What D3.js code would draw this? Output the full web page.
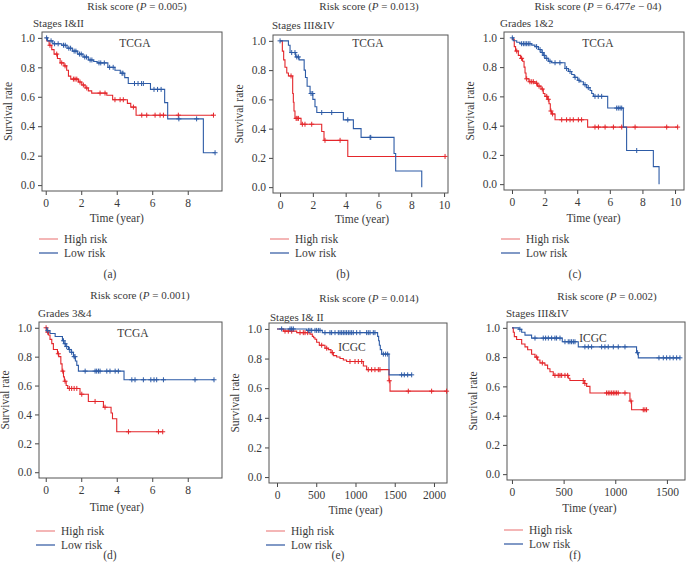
<!DOCTYPE html>
<html>
<head>
<meta charset="utf-8">
<script src="https://cdn.jsdelivr.net/npm/d3@7"></script>
<style>
  body { margin: 0; background: #fff; }
  svg { display: block; font-family: 'Liberation Serif', 'DejaVu Serif', serif; }
</style>
</head>
<body>
<svg id="chart" width="686" height="571"></svg>
<script>
// ---- data: step times (T), survival after step (S), censor times (C) ----

// (a) Stages I&II, TCGA, years
const aHighT = [0.06, 0.19, 0.34, 0.47, 0.66, 0.81, 1.03, 1.18, 1.28, 1.41, 1.84, 2.03, 2.22, 2.40, 2.59, 3.44, 3.77, 4.60, 4.79, 5.09]
const aHighS = [0.98, 0.95, 0.92, 0.89, 0.86, 0.83, 0.81, 0.78, 0.74, 0.72, 0.70, 0.68, 0.66, 0.64, 0.625, 0.61, 0.58, 0.555, 0.53, 0.475]
const aHighC = [0.24, 0.62, 0.9, 1.09, 1.56, 1.65, 1.75, 1.93, 2.12, 2.31, 3.06, 3.34, 3.9, 4.19, 4.37, 4.94, 5.41, 5.69, 6.16, 6.44, 6.63, 7.47, 9.45]
const aLowT = [0.1, 0.4, 0.9, 1.2, 1.5, 1.8, 2.1, 2.4, 2.7, 2.9, 3.5, 3.9, 4.2, 4.45, 4.65, 5.9, 6.7, 6.87, 8.88]
const aLowS = [0.98, 0.96, 0.95, 0.93, 0.91, 0.89, 0.87, 0.85, 0.84, 0.83, 0.80, 0.78, 0.76, 0.73, 0.69, 0.65, 0.56, 0.45, 0.22]
const aLowC = [0.05, 0.3, 0.5, 0.7, 1.0, 1.1, 1.3, 1.4, 1.6, 1.7, 1.9, 2.0, 2.2, 2.3, 2.5, 2.6, 3.0, 3.1, 3.3, 3.6, 3.8, 4.3, 4.35, 5.0, 5.2, 5.4, 5.5, 6.1, 6.3, 6.5, 7.5, 8.5, 9.54]

// (b) Stages III&IV, TCGA, years
const bHighT = [0.14, 0.22, 0.30, 0.41, 0.51, 0.77, 0.81, 0.85, 0.91, 1.28, 2.54, 2.68, 4.13]
const bHighS = [0.93, 0.87, 0.82, 0.78, 0.76, 0.64, 0.58, 0.52, 0.47, 0.43, 0.38, 0.32, 0.21]
const bHighC = [0.67, 0.98, 1.04, 1.12, 1.36, 1.52, 1.93, 2.74, 3.66, 10.06]
const bLowT = [0.51, 0.61, 0.95, 1.16, 1.47, 1.55, 1.65, 1.83, 2.0, 2.13, 2.24, 3.86, 4.47, 4.94, 6.95, 7.05, 8.64]
const bLowS = [0.97, 0.92, 0.89, 0.87, 0.80, 0.75, 0.69, 0.64, 0.60, 0.55, 0.51, 0.46, 0.40, 0.34, 0.23, 0.11, 0.0]
const bLowC = [0, 0.71, 0.91, 1.02, 1.12, 1.89, 1.99, 2.54, 3.15, 4.13, 5.49, 5.53]

// (c) Grades 1&2, TCGA, years
const cHighT = [0.02, 0.14, 0.22, 0.39, 0.53, 0.65, 0.74, 0.80, 0.86, 1.04, 1.41, 1.57, 1.78, 1.92, 2.02, 2.17, 2.27, 2.35, 2.43, 2.64, 4.64]
const cHighS = [0.99, 0.94, 0.91, 0.88, 0.86, 0.84, 0.80, 0.76, 0.72, 0.70, 0.69, 0.67, 0.65, 0.62, 0.60, 0.58, 0.55, 0.50, 0.48, 0.44, 0.39]
const cHighC = [0.29, 0.59, 0.9, 1.1, 1.21, 1.31, 1.51, 1.66, 1.86, 2.13, 2.23, 2.39, 2.49, 3.05, 3.35, 3.56, 3.76, 4.07, 4.27, 5.09, 5.3, 5.71, 6.22, 6.73, 7.55, 9.49, 10.16]
const cLowT = [0.08, 0.29, 0.49, 1.21, 1.41, 1.62, 1.78, 1.92, 2.02, 2.23, 2.43, 3.25, 3.46, 3.66, 3.82, 4.03, 4.17, 4.38, 4.58, 4.79, 4.89, 4.99, 5.87, 6.83, 7.03, 8.67, 9.02]
const cLowS = [0.98, 0.97, 0.96, 0.95, 0.94, 0.92, 0.90, 0.88, 0.86, 0.84, 0.83, 0.79, 0.77, 0.75, 0.73, 0.71, 0.70, 0.68, 0.66, 0.64, 0.62, 0.60, 0.52, 0.39, 0.23, 0.12, 0.0]
const cLowC = [0.02, 0.59, 0.7, 0.8, 0.9, 1.0, 1.1, 1.51, 1.72, 1.86, 1.98, 2.13, 2.33, 2.64, 2.94, 3.35, 3.56, 3.87, 4.11, 4.48, 4.68, 5.09, 5.29, 5.5, 6.42, 6.52, 6.63, 6.73, 7.65]

// (d) Grades 3&4, TCGA, years
const dHighT = [0.06, 0.15, 0.24, 0.34, 0.43, 0.66, 0.73, 0.85, 0.92, 1.0, 1.05, 1.15, 1.24, 1.93, 2.40, 3.25, 3.68, 3.76, 4.0]
const dHighS = [0.97, 0.95, 0.92, 0.89, 0.85, 0.82, 0.80, 0.75, 0.70, 0.66, 0.63, 0.60, 0.58, 0.54, 0.49, 0.45, 0.41, 0.37, 0.28]
const dHighC = [0.02, 0.11, 0.71, 0.96, 1.09, 1.33, 1.46, 1.6, 1.75, 2.03, 2.78, 3.34, 4.66, 6.35, 6.59]
const dLowT = [0.06, 0.24, 0.53, 0.94, 1.03, 1.13, 1.28, 1.43, 1.56, 1.67, 1.75, 1.84, 4.41]
const dLowS = [0.98, 0.96, 0.94, 0.91, 0.89, 0.87, 0.85, 0.83, 0.80, 0.77, 0.74, 0.70, 0.64]
const dLowC = [0.11, 1.0, 1.09, 1.18, 1.33, 1.46, 1.6, 1.65, 2.22, 2.78, 2.87, 2.97, 3.06, 3.44, 3.62, 3.91, 4.09, 4.85, 5.03, 5.5, 5.92, 6.1, 6.25, 6.63, 8.41, 9.48]

// (e) Stages I& II, ICGC, days
const eHighT = [81, 251, 420, 450, 467, 484, 505, 539, 611, 654, 688, 718, 760, 803, 845, 887, 1100, 1142, 1427, 1440]
const eHighS = [0.985, 0.975, 0.965, 0.95, 0.94, 0.93, 0.91, 0.89, 0.87, 0.86, 0.84, 0.82, 0.81, 0.80, 0.79, 0.78, 0.75, 0.725, 0.65, 0.58]
const eHighC = [102, 144, 187, 293, 335, 357, 391, 569, 633, 705, 930, 994, 1036, 1079, 1163, 1206, 1248, 1291, 1312, 1431, 1673, 1970, 2161]
const eLowT = [378, 577, 1282, 1295, 1304, 1316, 1333, 1427]
const eLowS = [0.99, 0.975, 0.95, 0.92, 0.89, 0.86, 0.83, 0.69]
const eLowC = [59, 166, 187, 208, 399, 420, 442, 484, 505, 527, 548, 611, 675, 696, 739, 781, 803, 824, 845, 866, 887, 909, 930, 951, 972, 1015, 1057, 1142, 1163, 1185, 1227, 1248, 1355, 1384, 1410, 1588, 1622, 1665, 1716]

// (f) Stages III&IV, ICGC, days
const fHighT = [13, 23, 45, 94, 126, 152, 190, 223, 248, 271, 319, 345, 368, 400, 545, 561, 700, 723, 755, 1142, 1158]
const fHighS = [0.97, 0.94, 0.92, 0.89, 0.87, 0.85, 0.82, 0.80, 0.78, 0.76, 0.745, 0.72, 0.70, 0.675, 0.655, 0.64, 0.62, 0.60, 0.555, 0.50, 0.44]
const fHighC = [239, 294, 416, 448, 465, 481, 513, 539, 690, 706, 916, 932, 948, 965, 981, 997, 1013, 1029, 1094, 1152, 1271, 1287, 1303]
const fLowT = [68, 94, 126, 190, 487, 642, 1206, 1223]
const fLowS = [0.99, 0.97, 0.95, 0.93, 0.905, 0.87, 0.83, 0.795]
const fLowC = [77, 223, 303, 326, 352, 384, 416, 432, 465, 513, 545, 561, 577, 594, 610, 706, 739, 771, 868, 900, 932, 981, 1029, 1094, 1216, 1423, 1465, 1497, 1529, 1561, 1594, 1626]

const pValues = ['0.005', '0.013', '6.477e \u2212 04', '0.001', '0.014', '0.002']
const subtitles = ['Stages I&II', 'Stages III&IV', 'Grades 1&2', 'Grades 3&4', 'Stages I& II', 'Stages III&IV']
const cohorts = ['TCGA', 'TCGA', 'TCGA', 'TCGA', 'ICGC', 'ICGC']
const letters = ['(a)', '(b)', '(c)', '(d)', '(e)', '(f)']
const seriesNames = ['High risk', 'Low risk']
const yearTicks8 = [0, 2, 4, 6, 8]
const yearTicks10 = [0, 2, 4, 6, 8, 10]
const dayTicks2000 = [0, 500, 1000, 1500, 2000]
const dayTicks1500 = [0, 500, 1000, 1500]
const yTicks = [0, 0.2, 0.4, 0.6, 0.8, 1.0]

// ---- layout ----
const red = '#e4262b'
const blue = '#2d5ba6'
const legendRed = '#ef8f8f'
const legendBlue = '#3d62a8'
const ink = '#3a3a3a'

const panels = [
  { high: [aHighT, aHighS, aHighC], low: [aLowT, aLowS, aLowC], box: [42, 32, 222, 191], xDom: [-0.21, 9.93], xTicks: yearTicks8,
    titleX: 137, titleY: 10, subX: 33, subY: 27, cohX: 135, cohY: 47, xLabY: 222, legY: 239, letX: 110, letY: 278 },
  { high: [bHighT, bHighS, bHighC], low: [bLowT, bLowS, bLowC], box: [273, 35, 448, 193], xDom: [-0.43, 10.24], xTicks: yearTicks10,
    titleX: 369, titleY: 10, subX: 272, subY: 29, cohX: 368, cohY: 47, xLabY: 223, legY: 239, letX: 343, letY: 278 },
  { high: [cHighT, cHighS, cHighC], low: [cLowT, cLowS, cLowC], box: [504, 32, 684, 190], xDom: [-0.49, 10.55], xTicks: yearTicks10,
    titleX: 598, titleY: 10, subX: 500, subY: 27, cohX: 598, cohY: 47, xLabY: 222, legY: 239, letX: 575, letY: 278 },
  { high: [dHighT, dHighS, dHighC], low: [dLowT, dLowS, dLowC], box: [39, 322, 222, 478], xDom: [-0.38, 9.93], xTicks: yearTicks8,
    titleX: 140, titleY: 299, subX: 38, subY: 317, cohX: 133, cohY: 337, xLabY: 511, legY: 531, letX: 110, letY: 559 },
  { high: [eHighT, eHighS, eHighC], low: [eLowT, eLowS, eLowC], box: [269, 323, 447, 483], xDom: [-102, 2166], xTicks: dayTicks2000,
    titleX: 369, titleY: 302, subX: 270, subY: 321, cohX: 352, cohY: 351, xLabY: 514, legY: 531, letX: 338, letY: 559 },
  { high: [fHighT, fHighS, fHighC], low: [fLowT, fLowS, fLowC], box: [507, 322, 685, 480], xDom: [-48, 1675], xTicks: dayTicks1500,
    titleX: 607, titleY: 300, subX: 506, subY: 317, cohX: 593, cohY: 342, xLabY: 512, legY: 530, letX: 575, letY: 559 }
]

const svg = d3.select('#chart')

// survival value of a step curve at time t
function survAt (T, S, t) {
  let s = 1
  for (let i = 0; i < T.length; i++) {
    if (T[i] <= t) s = S[i]
  }
  return s
}

panels.forEach((p, i) => {
  const [x0, y0, x1, y1] = p.box
  const x = d3.scaleLinear().domain(p.xDom).range([x0, x1])
  const y = d3.scaleLinear().domain([-0.04, 1.04]).range([y1, y0])
  const g = svg.append('g')

  // title with italic P
  const title = g.append('text')
    .attr('x', p.titleX).attr('y', p.titleY)
    .attr('text-anchor', 'middle')
    .attr('font-size', 11).attr('fill', ink)
  title.append('tspan').text('Risk score (')
  title.append('tspan').attr('font-style', 'italic').text('P')
  if (pValues[i].includes('e')) {
    const parts = pValues[i].split('e')
    title.append('tspan').text(' = ' + parts[0])
    title.append('tspan').attr('font-style', 'italic').text('e')
    title.append('tspan').text(parts[1] + ')')
  } else {
    title.append('tspan').text(' = ' + pValues[i] + ')')
  }

  g.append('text')
    .attr('x', p.subX).attr('y', p.subY)
    .attr('font-size', 11).attr('fill', ink)
    .text(subtitles[i])

  // axes
  const yAxis = g.append('g')
    .attr('transform', 'translate(' + x0 + ',0)')
    .call(d3.axisLeft(y).tickValues(yTicks).tickFormat(d3.format('.1f')).tickSize(4).tickPadding(3))
  yAxis.select('.domain').remove()

  const xAxis = g.append('g')
    .attr('transform', 'translate(0,' + y1 + ')')
    .call(d3.axisBottom(x).tickValues(p.xTicks).tickFormat(d3.format('d')).tickSize(4).tickPadding(4))
  xAxis.select('.domain').remove()

  g.selectAll('.tick text')
    .attr('font-family', "'Liberation Serif', 'DejaVu Serif', serif")
    .attr('font-size', 11.5).attr('fill', ink)
  g.selectAll('.tick line').attr('stroke', '#444')

  // plot box
  g.append('rect')
    .attr('x', x0).attr('y', y0)
    .attr('width', x1 - x0).attr('height', y1 - y0)
    .attr('fill', 'none').attr('stroke', '#555').attr('stroke-width', 1)

  g.append('text')
    .attr('transform', 'translate(' + (x0 - 30) + ',' + ((y(0) + y(1)) / 2) + ') rotate(-90)')
    .attr('text-anchor', 'middle')
    .attr('font-size', 11.5).attr('fill', ink)
    .text('Survival rate')

  g.append('text')
    .attr('x', p.cohX).attr('y', p.cohY)
    .attr('text-anchor', 'middle')
    .attr('font-size', 11.5).attr('fill', ink)
    .text(cohorts[i])

  g.append('text')
    .attr('x', (x(p.xTicks[0]) + x(p.xTicks[p.xTicks.length - 1])) / 2)
    .attr('y', p.xLabY)
    .attr('text-anchor', 'middle')
    .attr('font-size', 11.5).attr('fill', ink)
    .text('Time (year)')

  // curves
  const line = d3.line()
    .x((d) => x(d[0]))
    .y((d) => y(d[1]))
    .curve(d3.curveStepAfter)

  const series = [[p.high, red], [p.low, blue]]
  series.forEach(([curve, col]) => {
    const [T, S, C] = curve
    const pts = [[0, 1]]
    T.forEach((t, k) => pts.push([t, S[k]]))
    const tEnd = Math.max(d3.max(C), T[T.length - 1])
    pts.push([tEnd, S[S.length - 1]])

    g.append('path')
      .datum(pts)
      .attr('fill', 'none')
      .attr('stroke', col)
      .attr('stroke-width', 1.1)
      .attr('d', line)

    g.append('g')
      .selectAll('path')
      .data(C)
      .join('path')
      .attr('d', (c) => {
        const cx = x(c)
        const cy = y(survAt(T, S, c))
        return 'M' + (cx - 2.5) + ',' + cy + 'H' + (cx + 2.5) + 'M' + cx + ',' + (cy - 2.5) + 'V' + (cy + 2.5)
      })
      .attr('stroke', col)
      .attr('stroke-width', 1)
  })

  // legend
  const leg = g.append('g')
  const legCols = [legendRed, legendBlue]
  seriesNames.forEach((name, k) => {
    const ly = p.legY + k * 14
    leg.append('line')
      .attr('x1', x0 - 3).attr('x2', x0 + 16)
      .attr('y1', ly).attr('y2', ly)
      .attr('stroke', legCols[k]).attr('stroke-width', 1.3)
    leg.append('text')
      .attr('x', x0 + 22).attr('y', ly + 4)
      .attr('font-size', 11.5).attr('fill', ink)
      .text(name)
  })

  g.append('text')
    .attr('x', p.letX).attr('y', p.letY)
    .attr('text-anchor', 'middle')
    .attr('font-size', 11.5).attr('fill', ink)
    .text(letters[i])
})
</script>
</body>
</html>
